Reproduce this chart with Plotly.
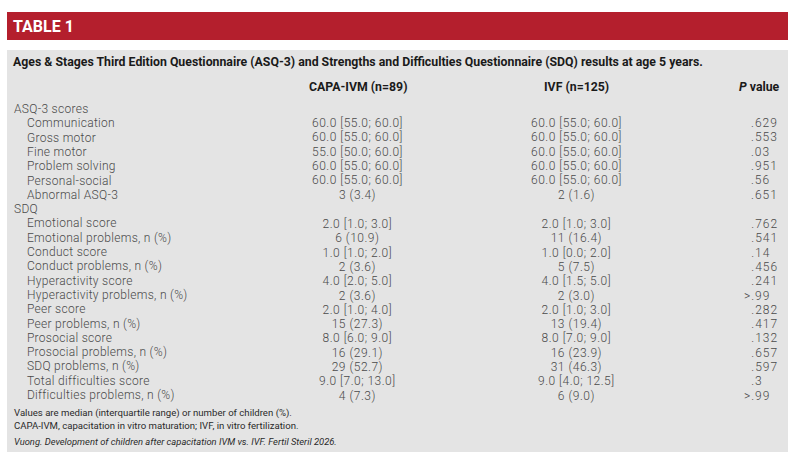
import plotly.graph_objects as go

title = "TABLE 1"
subtitle = ("Ages & Stages Third Edition Questionnaire (ASQ-3) and Strengths and "
            "Difficulties Questionnaire (SDQ) results at age 5 years.")
col_headers = ["CAPA-IVM (n=89)", "IVF (n=125)", "<i>P</i> value"]

row_labels = [
    "ASQ-3 scores", "Communication", "Gross motor", "Fine motor", "Problem solving",
    "Personal-social", "Abnormal ASQ-3", "SDQ", "Emotional score",
    "Emotional problems, n (%)", "Conduct score", "Conduct problems, n (%)",
    "Hyperactivity score", "Hyperactivity problems, n (%)", "Peer score",
    "Peer problems, n (%)", "Prosocial score", "Prosocial problems, n (%)",
    "SDQ problems, n (%)", "Total difficulties score", "Difficulties problems, n (%)",
]
row_is_section = [True, False, False, False, False, False, False, True] + [False] * 13

capa_values = [
    "", "60.0 [55.0; 60.0]", "60.0 [55.0; 60.0]", "55.0 [50.0; 60.0]",
    "60.0 [55.0; 60.0]", "60.0 [55.0; 60.0]", "3 (3.4)", "",
    "2.0 [1.0; 3.0]", "6 (10.9)", "1.0 [1.0; 2.0]", "2 (3.6)",
    "4.0 [2.0; 5.0]", "2 (3.6)", "2.0 [1.0; 4.0]", "15 (27.3)",
    "8.0 [6.0; 9.0]", "16 (29.1)", "29 (52.7)", "9.0 [7.0; 13.0]", "4 (7.3)",
]
ivf_values = [
    "", "60.0 [55.0; 60.0]", "60.0 [55.0; 60.0]", "60.0 [55.0; 60.0]",
    "60.0 [55.0; 60.0]", "60.0 [55.0; 60.0]", "2 (1.6)", "",
    "2.0 [1.0; 3.0]", "11 (16.4)", "1.0 [0.0; 2.0]", "5 (7.5)",
    "4.0 [1.5; 5.0]", "2 (3.0)", "2.0 [1.0; 3.0]", "13 (19.4)",
    "8.0 [7.0; 9.0]", "16 (23.9)", "31 (46.3)", "9.0 [4.0; 12.5]", "6 (9.0)",
]
p_values = [
    "", ".629", ".553", ".03", ".951", ".56", ".651", "",
    ".762", ".541", ".14", ".456", ".241", ">.99", ".282",
    ".417", ".132", ".657", ".597", ".3", ">.99",
]
footnotes = [
    "Values are median (interquartile range) or number of children (%).",
    "CAPA-IVM, capacitation in vitro maturation; IVF, in vitro fertilization.",
]
citation = "Vuong. Development of children after capacitation IVM vs. IVF. Fertil Steril 2026."

# ---- layout constants (pixel space) ----
W, H = 800, 465
LEFT, RIGHT = 7, 788
ROW0, STEP = 109.3, 14.3
X_LABEL = 13
X_CAPA, X_IVF, X_P_RIGHT = 357.5, 576, 779
BODY_FONT = "Roboto"
BOLD_FONT = "Roboto"
BODY_COLOR = "#4a4a4a"
BASE_SIZE = STEP / 1.3      # plotly line spacing = 1.3 em of annotation font
GLYPH_SIZE = 12
LABEL_SPACING = 0.3
VALUE_SPACING = 0.5
P_SPACING = 1.0
HEAD_COLOR = "#1a1a1a"
NOTE_COLOR = "#2a2a2a"

fig = go.Figure()
fig.add_trace(go.Scatter(x=[0, W], y=[0, H], mode="markers",
                         marker=dict(opacity=0), hoverinfo="skip", showlegend=False))

shapes = [
    dict(type="rect", xref="x", yref="y", x0=LEFT, x1=RIGHT, y0=12, y1=40,
         fillcolor="#b41f2d", line=dict(width=0), layer="below"),
    dict(type="rect", xref="x", yref="y", x0=LEFT, x1=RIGHT, y0=50, y1=452,
         fillcolor="#e4e4e4", line=dict(width=0), layer="below"),
]

ann = []
def add(text, x, y, anchor="left", size=12, color=BODY_COLOR, family=BODY_FONT,
        align="left", weight="normal"):
    ann.append(dict(text=text, x=x, y=y, xref="x", yref="y", xanchor=anchor,
                    yanchor="middle", showarrow=False, borderpad=0, align=align,
                    font=dict(size=size, color=color, family=family, weight=weight)))

def span(s, spacing):
    return ('<span style="font-size:%.1fpx;letter-spacing:%.2fpx">%s</span>'
            % (GLYPH_SIZE, spacing, s))

def block(lines, first, x, anchor, align, spacing):
    """One multi-line text for consecutive rows first..first+len-1."""
    last = first + len(lines) - 1
    yc = ROW0 + (first + last) / 2 * STEP
    add("<br>".join(span(s, spacing) for s in lines), x, yc, anchor, BASE_SIZE,
        align=align, weight=300)

# headers
add("<b>" + title + "</b>", 12, 26.5, size=16, color="white", family=BOLD_FONT)
add("<b>" + subtitle + "</b>", 12, 61.5, size=12.3, color=HEAD_COLOR, family=BOLD_FONT)
add("<b>" + col_headers[0] + "</b>", X_CAPA, 86.5, "center", 12.3, HEAD_COLOR, BOLD_FONT)
add("<b>" + col_headers[1] + "</b>", X_IVF, 86.5, "center", 12.3, HEAD_COLOR, BOLD_FONT)
add("<b>" + col_headers[2] + "</b>", 781, 86.5, "right", 12.3, HEAD_COLOR, BOLD_FONT)

# row labels (indented items)
label_lines = [lab if sec else "\u00a0" * 4 + lab for lab, sec in zip(row_labels, row_is_section)]
block(label_lines, 0, X_LABEL, "left", "left", LABEL_SPACING)

# value columns, split into the blocks between section rows
def runs(values):
    out, cur, start = [], [], None
    for i, v in enumerate(values):
        if v:
            if start is None:
                start = i
            cur.append(v)
        elif cur:
            out.append((start, cur)); cur, start = [], None
    if cur:
        out.append((start, cur))
    return out

for start, vals in runs(capa_values):
    block(vals, start, X_CAPA, "center", "center", VALUE_SPACING)
for start, vals in runs(ivf_values):
    block(vals, start, X_IVF, "center", "center", VALUE_SPACING)

def decimal_pad(p):
    digits = len(p.split(".")[1])
    return p + "\u2007" * (3 - digits)

for start, vals in runs(p_values):
    block([decimal_pad(v) for v in vals], start, X_P_RIGHT, "right", "right", P_SPACING)

# footnotes
note_base = 12.5 / 1.3
add("<br>".join('<span style="font-size:9.6px">%s</span>' % f for f in footnotes),
    13, 419.2, "left", note_base, NOTE_COLOR, BOLD_FONT)
add("<i>" + citation + "</i>", 13, 441.5, size=9.4, color=NOTE_COLOR, family=BOLD_FONT)

fig.update_layout(
    width=W, height=H, margin=dict(l=0, r=0, t=0, b=0),
    paper_bgcolor="white", plot_bgcolor="white",
    xaxis=dict(range=[0, W], visible=False, fixedrange=True),
    yaxis=dict(range=[H, 0], visible=False, fixedrange=True),
    shapes=shapes, annotations=ann, showlegend=False,
)
fig.write_html("out.html", config={"displayModeBar": False},
               post_script="document.body.style.margin='0px';")
